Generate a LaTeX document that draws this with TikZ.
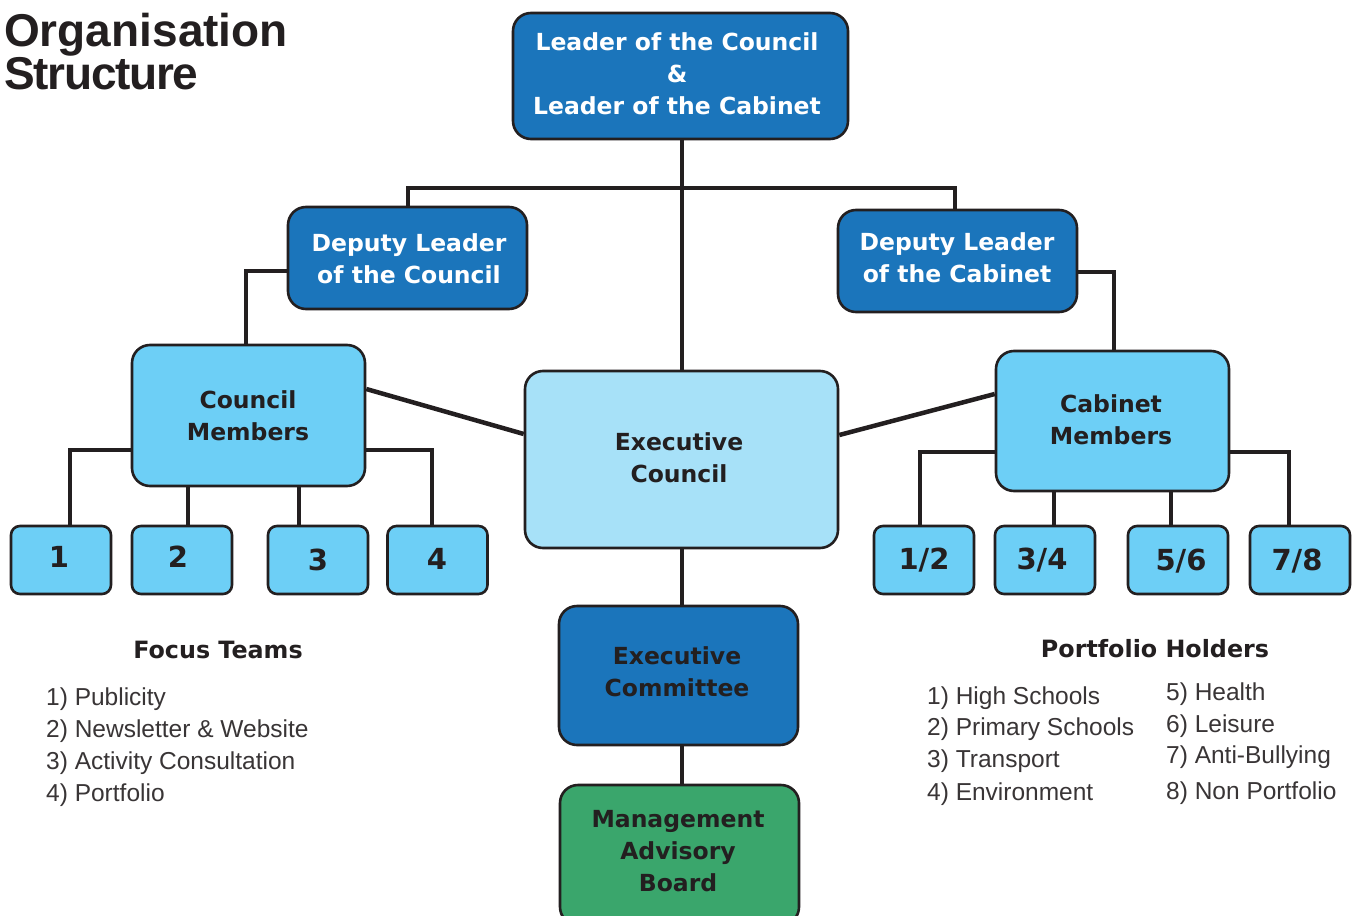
\documentclass[tikz,border=0pt]{standalone}
\usepackage{fontspec}
\setmainfont{Liberation Sans}
\newfontfamily\boxfont{DejaVu Sans}
\definecolor{dblue}{HTML}{1B75BB}
\definecolor{lblue}{HTML}{6DCFF6}
\definecolor{pblue}{HTML}{A7E1F8}
\definecolor{mgreen}{HTML}{3AA66C}
\definecolor{ink}{HTML}{231F20}
\tikzset{
  box/.style={draw=ink, line width=2.6pt, rounded corners=18pt, inner sep=0pt},
  darkbox/.style={box, fill=dblue},
  boxtext/.style={inner sep=0pt, align=center, text=ink,
    font=\boxfont\bfseries\fontsize{23.5}{32}\selectfont},
  numbox/.style={draw=ink, line width=2.6pt, rounded corners=9pt, fill=lblue, inner sep=0pt,
    minimum width=100pt, minimum height=68pt, text=ink, font=\boxfont\bfseries\fontsize{29}{32}\selectfont},
  link/.style={draw=ink, line width=4.5pt},
  title/.style={anchor=base west, inner sep=0pt, text=ink, font=\bfseries\fontsize{46}{46}\selectfont},
  head/.style={anchor=base, inner sep=0pt, text=ink, font=\boxfont\bfseries\fontsize{23.8}{26}\selectfont},
  item/.style={anchor=base west, inner sep=0pt, text=ink!90, font=\fontsize{24.5}{28}\selectfont}
}
\begin{document}
\begin{tikzpicture}[x=1pt,y=-1pt]
\useasboundingbox (0,0) rectangle (1359,915);
\clip (0,0) rectangle (1359,915);
\fill[white] (0,0) rectangle (1359,915);

% title
\node[title] (t1) at (4,47) {Organisation};
\node[title] (t2) at (4,90) {\addfontfeature{LetterSpace=-2.8}Structure};

% main boxes
\node[darkbox, minimum width=335pt, minimum height=126pt] (lead) at (680.5,76) {};
\node[boxtext, text=white] (leadtxt) at (677,74) {Leader of the Council\\\&\\Leader of the Cabinet};
\node[darkbox, minimum width=239pt, minimum height=102pt] (dc) at (407.5,258) {};
\node[boxtext, text=white] (dctxt) at (409,259) {Deputy Leader\\of the Council};
\node[darkbox, minimum width=239pt, minimum height=102pt] (dcab) at (957.5,261) {};
\node[boxtext, text=white] (dcabtxt) at (957,258) {Deputy Leader\\of the Cabinet};
\node[box, fill=lblue, minimum width=233pt, minimum height=141pt] (cm) at (248.5,415.5) {};
\node[boxtext] (cmtxt) at (248,416) {Council\\Members};
\node[box, fill=pblue, minimum width=313pt, minimum height=177pt] (ec) at (681.5,459.5) {};
\node[boxtext] (ectxt) at (679,458) {Executive\\Council};
\node[box, fill=lblue, minimum width=233pt, minimum height=140pt] (cab) at (1112.5,421) {};
\node[boxtext] (cabtxt) at (1111,420) {Cabinet\\Members};
\node[darkbox, minimum width=239pt, minimum height=139pt] (ecom) at (678.5,675.5) {};
\node[boxtext] (ecomtxt) at (677,672) {Executive\\Committee};
\node[box, fill=mgreen, minimum width=239pt, minimum height=140pt] (mab) at (679.5,855) {};
\node[boxtext] (mabtxt) at (678,851) {Management\\Advisory\\Board};

% number boxes
\node[numbox] (b1) at (61,560) {};
\node[numbox] (b2) at (182,560) {};
\node[numbox] (b3) at (318,560) {};
\node[numbox] (b4) at (437.5,560) {};
\node[numbox] (c12) at (924,560) {};
\node[numbox] (c34) at (1045,560) {};
\node[numbox] (c56) at (1178,560) {};
\node[numbox] (c78) at (1300,560) {};
\begin{scope}[every node/.style={inner sep=0pt, text=ink, font=\boxfont\bfseries\fontsize{29}{32}\selectfont}]
\node (b1t) at (59,557) {1};
\node (b2t) at (178,557) {2};
\node (b3t) at (318,560) {3};
\node (b4t) at (437,559) {4};
\node (c12t) at (924,560) {1/2};
\node (c34t) at (1042,560) {3/4};
\node (c56t) at (1181,561) {5/6};
\node (c78t) at (1297,561) {7/8};
\end{scope}

% connectors
\draw[link] (lead.south -| 682,0) -- (ec.north -| 682,0);
\draw[link] (dc.north -| 408,0) |- (955,188) -- (dcab.north -| 955,0);
\draw[link] (dc.west |- 0,271) -| (cm.north -| 246,0);
\draw[link] (dcab.east |- 0,272) -| (cab.north -| 1114,0);
\draw[link] (cm.east |- 0,389) -- (ec.west |- 0,434);
\draw[link] (ec.east |- 0,435) -- (cab.west |- 0,394);
\draw[link] (cm.west |- 0,450) -| (b1.north -| 70,0);
\draw[link] (cm.south -| 188,0) -- (b2.north -| 188,0);
\draw[link] (cm.south -| 299,0) -- (b3.north -| 299,0);
\draw[link] (cm.east |- 0,450) -| (b4.north -| 432,0);
\draw[link] (cab.west |- 0,452) -| (c12.north -| 920,0);
\draw[link] (cab.south -| 1054,0) -- (c34.north -| 1054,0);
\draw[link] (cab.south -| 1171,0) -- (c56.north -| 1171,0);
\draw[link] (cab.east |- 0,452) -| (c78.north -| 1289,0);
\draw[link] (ec.south -| 682,0) -- (ecom.north -| 682,0);
\draw[link] (ecom.south -| 682,0) -- (mab.north -| 682,0);

% focus teams
\node[head] (fh) at (218,658) {Focus Teams};
\node[item] (f1) at (46,705) {1) Publicity};
\node[item] (f2) at (46,737) {2) Newsletter \& Website};
\node[item] (f3) at (46,769) {3) Activity Consultation};
\node[item] (f4) at (46,801) {4) Portfolio};

% portfolio holders
\node[head] (ph) at (1155,657) {Portfolio Holders};
\node[item] (p1) at (927,704) {1) High Schools};
\node[item] (p2) at (927,735) {2) Primary Schools};
\node[item] (p3) at (927,767) {3) Transport};
\node[item] (p4) at (927,800) {4) Environment};
\node[item] (p5) at (1166,700) {5) Health};
\node[item] (p6) at (1166,732) {6) Leisure};
\node[item] (p7) at (1166,763) {7) Anti-Bullying};
\node[item] (p8) at (1166,799) {8) Non Portfolio};
\end{tikzpicture}
\end{document}
